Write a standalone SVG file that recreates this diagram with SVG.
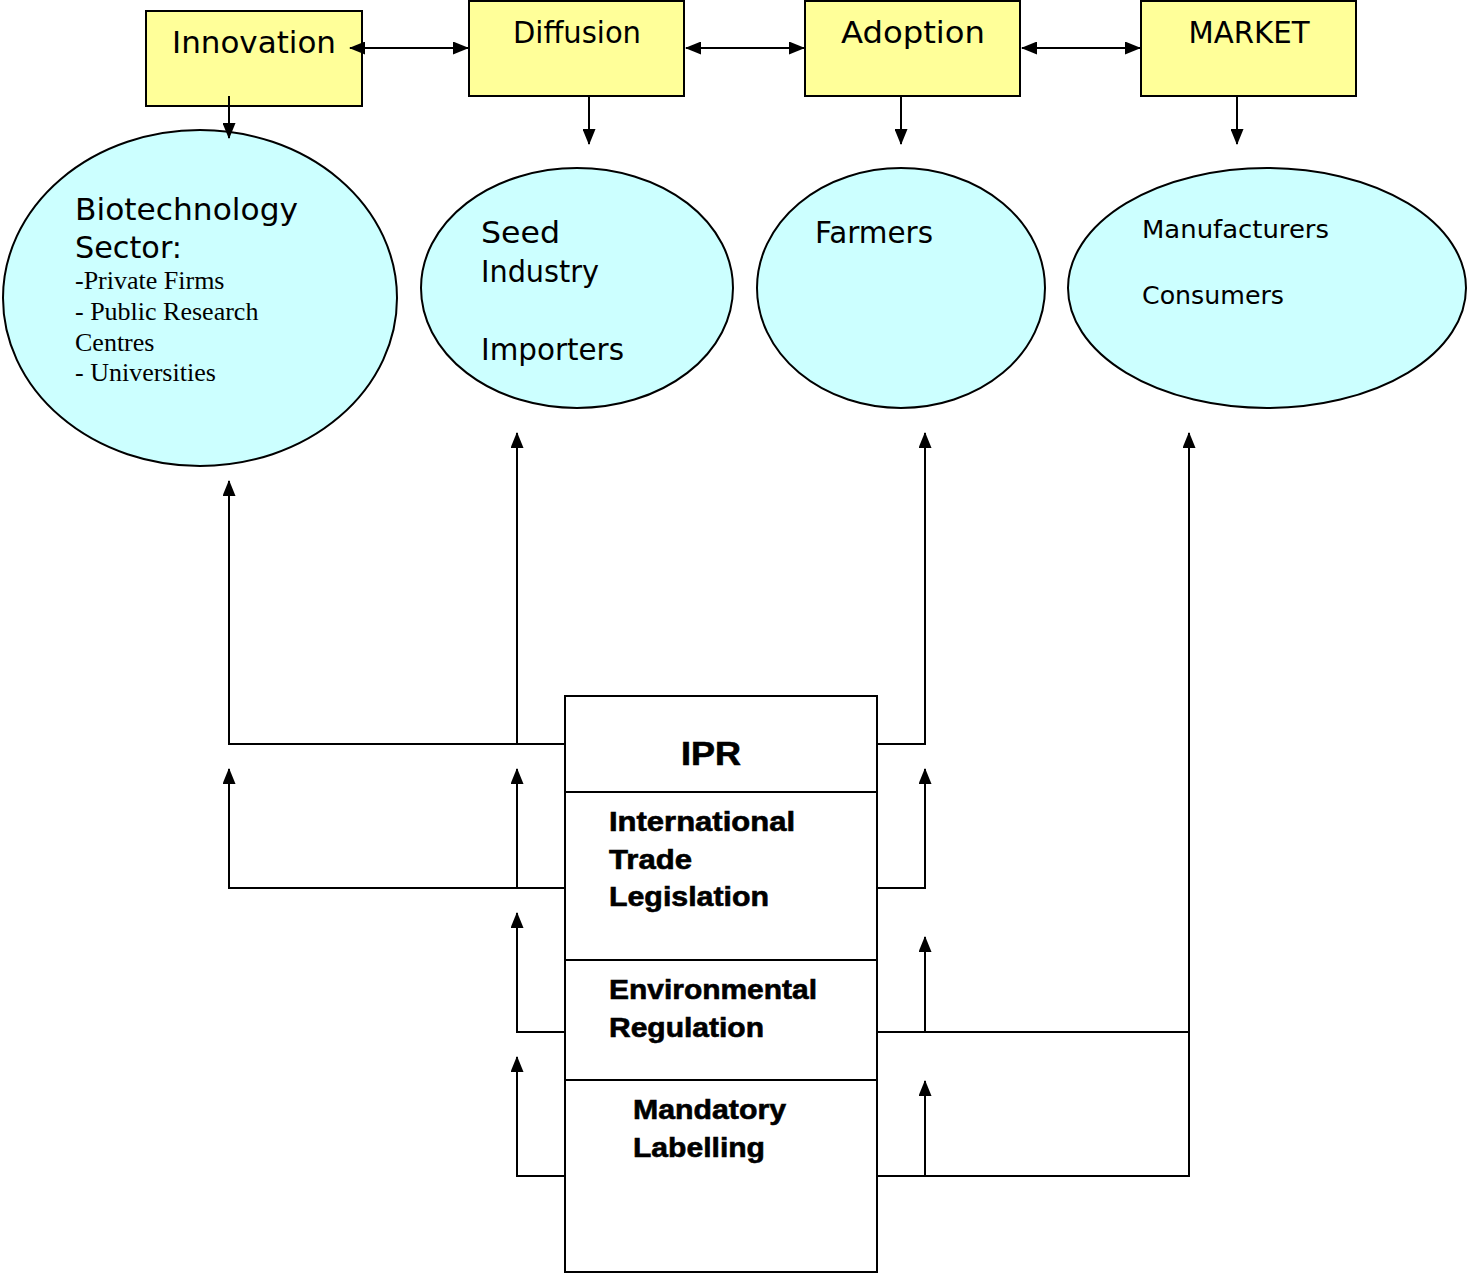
<svg xmlns="http://www.w3.org/2000/svg" width="1467" height="1274" viewBox="0 0 1467 1274">
<style>
.box{fill:#FFFF99;stroke:#000;stroke-width:2}
.ell{fill:#CCFFFF;stroke:#000;stroke-width:2}
.reg{fill:#fff;stroke:#000;stroke-width:2}
.sans{font-family:"DejaVu Sans","Liberation Sans",sans-serif;fill:#000}
.serif{font-family:"Liberation Serif",serif;font-size:26px;fill:#000}
.bold{font-family:"Liberation Sans",Arial,sans-serif;font-weight:bold;fill:#000;stroke:#000;stroke-width:0.6}
.ln{fill:none;stroke:#000;stroke-width:2}
</style>
<defs>
<marker id="ah" markerUnits="userSpaceOnUse" markerWidth="16" markerHeight="13" refX="15" refY="6.5" orient="auto-start-reverse">
<path d="M0,0 L16,6.5 L0,13 Z" fill="#000"/>
</marker>
</defs>

<g id="innovation"><rect class="box" x="146" y="11" width="216" height="95"/><text class="sans" x="254" y="53" font-size="31" text-anchor="middle" textLength="164" lengthAdjust="spacingAndGlyphs">Innovation</text></g>
<g id="diffusion"><rect class="box" x="469" y="1" width="215" height="95"/><text class="sans" x="577" y="43" font-size="31" text-anchor="middle" textLength="128" lengthAdjust="spacingAndGlyphs">Diffusion</text></g>
<g id="adoption"><rect class="box" x="805" y="1" width="215" height="95"/><text class="sans" x="913" y="43" font-size="31" text-anchor="middle" textLength="144" lengthAdjust="spacingAndGlyphs">Adoption</text></g>
<g id="market"><rect class="box" x="1141" y="1" width="215" height="95"/><text class="sans" x="1249" y="43" font-size="31" text-anchor="middle" textLength="121" lengthAdjust="spacingAndGlyphs">MARKET</text></g>

<g id="biotech"><ellipse class="ell" cx="200" cy="298" rx="197" ry="168"/>
<text class="sans" x="75" y="220" font-size="31" textLength="223" lengthAdjust="spacingAndGlyphs">Biotechnology</text>
<text class="sans" x="75" y="258" font-size="31" textLength="107" lengthAdjust="spacingAndGlyphs">Sector:</text>
<text class="serif" x="75" y="289">-Private Firms</text>
<text class="serif" x="75" y="320">- Public Research</text>
<text class="serif" x="75" y="351">Centres</text>
<text class="serif" x="75" y="381">- Universities</text>
</g>
<g id="seed"><ellipse class="ell" cx="577" cy="288" rx="156" ry="120"/>
<text class="sans" x="481" y="243" font-size="31" textLength="79" lengthAdjust="spacingAndGlyphs">Seed</text>
<text class="sans" x="481" y="282" font-size="31" textLength="118" lengthAdjust="spacingAndGlyphs">Industry</text>
<text class="sans" x="481" y="360" font-size="31" textLength="143" lengthAdjust="spacingAndGlyphs">Importers</text>
</g>
<g id="farmers"><ellipse class="ell" cx="901" cy="288" rx="144" ry="120"/>
<text class="sans" x="815" y="243" font-size="31" textLength="118" lengthAdjust="spacingAndGlyphs">Farmers</text>
</g>
<g id="consumers"><ellipse class="ell" cx="1267" cy="288" rx="199" ry="120"/>
<text class="sans" x="1142" y="238" font-size="25" textLength="187" lengthAdjust="spacingAndGlyphs">Manufacturers</text>
<text class="sans" x="1142" y="304" font-size="25" textLength="142" lengthAdjust="spacingAndGlyphs">Consumers</text>
</g>

<g id="regulation">
<rect class="reg" x="565" y="696" width="312" height="576"/>
<line class="ln" x1="565" y1="792" x2="877" y2="792"/>
<line class="ln" x1="565" y1="960" x2="877" y2="960"/>
<line class="ln" x1="565" y1="1080" x2="877" y2="1080"/>
<text class="bold" x="711" y="765" font-size="33" text-anchor="middle" textLength="60" lengthAdjust="spacingAndGlyphs">IPR</text>
<text class="bold" x="609" y="831" font-size="27" textLength="186" lengthAdjust="spacingAndGlyphs">International</text>
<text class="bold" x="609" y="869" font-size="27" textLength="83" lengthAdjust="spacingAndGlyphs">Trade</text>
<text class="bold" x="609" y="906" font-size="27" textLength="160" lengthAdjust="spacingAndGlyphs">Legislation</text>
<text class="bold" x="609" y="999" font-size="27" textLength="208" lengthAdjust="spacingAndGlyphs">Environmental</text>
<text class="bold" x="609" y="1037" font-size="27" textLength="155" lengthAdjust="spacingAndGlyphs">Regulation</text>
<text class="bold" x="633" y="1119" font-size="27" textLength="153" lengthAdjust="spacingAndGlyphs">Mandatory</text>
<text class="bold" x="633" y="1157" font-size="27" textLength="132" lengthAdjust="spacingAndGlyphs">Labelling</text>
</g>

<g id="connectors">
<line class="ln" x1="350" y1="48" x2="468" y2="48" marker-start="url(#ah)" marker-end="url(#ah)"/>
<line class="ln" x1="686" y1="48" x2="804" y2="48" marker-start="url(#ah)" marker-end="url(#ah)"/>
<line class="ln" x1="1022" y1="48" x2="1140" y2="48" marker-start="url(#ah)" marker-end="url(#ah)"/>
<line class="ln" x1="229" y1="96" x2="229" y2="138" marker-end="url(#ah)"/>
<line class="ln" x1="589" y1="96" x2="589" y2="144" marker-end="url(#ah)"/>
<line class="ln" x1="901" y1="96" x2="901" y2="144" marker-end="url(#ah)"/>
<line class="ln" x1="1237" y1="96" x2="1237" y2="144" marker-end="url(#ah)"/>

<polyline class="ln" points="565,744 229,744 229,481" marker-end="url(#ah)"/>
<line class="ln" x1="517" y1="744" x2="517" y2="433" marker-end="url(#ah)"/>
<polyline class="ln" points="877,744 925,744 925,433" marker-end="url(#ah)"/>

<polyline class="ln" points="565,888 229,888 229,769" marker-end="url(#ah)"/>
<line class="ln" x1="517" y1="888" x2="517" y2="769" marker-end="url(#ah)"/>
<polyline class="ln" points="877,888 925,888 925,769" marker-end="url(#ah)"/>

<polyline class="ln" points="565,1032 517,1032 517,913" marker-end="url(#ah)"/>
<polyline class="ln" points="877,1032 1189,1032 1189,433" marker-end="url(#ah)"/>
<line class="ln" x1="925" y1="1032" x2="925" y2="937" marker-end="url(#ah)"/>

<polyline class="ln" points="565,1176 517,1176 517,1057" marker-end="url(#ah)"/>
<polyline class="ln" points="877,1176 1189,1176 1189,1032"/>
<line class="ln" x1="925" y1="1176" x2="925" y2="1081" marker-end="url(#ah)"/>
</g>
</svg>
